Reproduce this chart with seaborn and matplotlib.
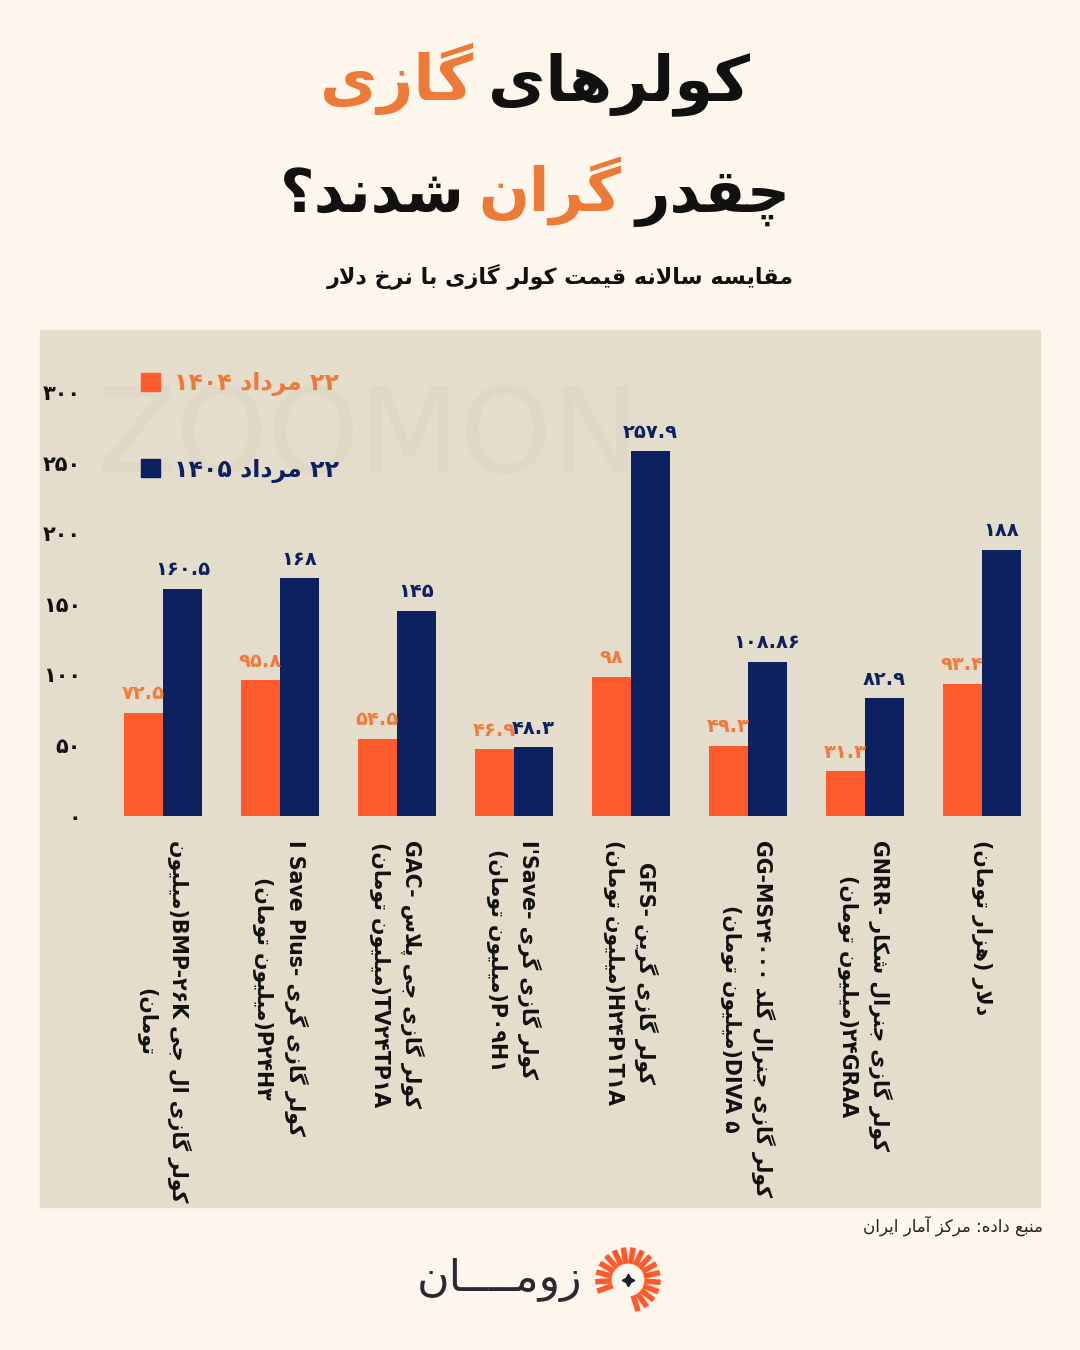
import numpy as np
import pandas as pd
import matplotlib
matplotlib.use("Agg")
import matplotlib.pyplot as plt
import seaborn as sns
from matplotlib.patches import Rectangle

# --- DATA ---
LABELS = [
    "کولر گازی ال جی BMP-۲۶K(میلیون\nتومان)",
    "کولر گازی گری -I Save Plus\nP۲۴H۳(میلیون تومان)",
    "کولر گازی جی پلاس -GAC\nTV۲۴TP۱A(میلیون تومان)",
    "کولر گازی گری -I'Save\nP۰۹H۱(میلیون تومان)",
    "کولر گازی گرین -GFS\nH۲۴P۱T۱A(میلیون تومان)",
    "کولر گازی جنرال گلد GG-MS۲۴۰۰۰\nDIVA ۵(میلیون تومان)",
    "کولر گازی جنرال شکار -GNRR\n۲۴GRAA(میلیون تومان)",
    "دلار (هزار تومان)",
]
PERIODS = ["۲۲ مرداد ۱۴۰۴", "۲۲ مرداد ۱۴۰۵"]
VALUES_1404 = [72.5, 95.8, 54.5, 46.9, 98, 49.3, 31.3, 93.4]
VALUES_1405 = [160.5, 168, 145, 48.3, 257.9, 108.86, 82.9, 188]
Y_TICKS = [0, 50, 100, 150, 200, 250, 300]

# --- COLOURS ---
BG = "#FCF6EC"
PANEL = "#E5DDCC"
ORANGE = "#FF5A2B"
ORANGE_TXT = "#EE7A3A"
NAVY = "#0C2260"

# --- persian shaping (matplotlib does no arabic shaping / bidi) ---
FORMS = {
    'ء': ('\uFE80', None, None, None),
    'آ': ('\uFE81', '\uFE82', None, None),
    'ا': ('\uFE8D', '\uFE8E', None, None),
    'ب': ('\uFE8F', '\uFE90', '\uFE91', '\uFE92'),
    'پ': ('\uFB56', '\uFB57', '\uFB58', '\uFB59'),
    'ت': ('\uFE95', '\uFE96', '\uFE97', '\uFE98'),
    'ث': ('\uFE99', '\uFE9A', '\uFE9B', '\uFE9C'),
    'ج': ('\uFE9D', '\uFE9E', '\uFE9F', '\uFEA0'),
    'چ': ('\uFB7A', '\uFB7B', '\uFB7C', '\uFB7D'),
    'ح': ('\uFEA1', '\uFEA2', '\uFEA3', '\uFEA4'),
    'خ': ('\uFEA5', '\uFEA6', '\uFEA7', '\uFEA8'),
    'د': ('\uFEA9', '\uFEAA', None, None),
    'ذ': ('\uFEAB', '\uFEAC', None, None),
    'ر': ('\uFEAD', '\uFEAE', None, None),
    'ز': ('\uFEAF', '\uFEB0', None, None),
    'ژ': ('\uFB8A', '\uFB8B', None, None),
    'س': ('\uFEB1', '\uFEB2', '\uFEB3', '\uFEB4'),
    'ش': ('\uFEB5', '\uFEB6', '\uFEB7', '\uFEB8'),
    'ص': ('\uFEB9', '\uFEBA', '\uFEBB', '\uFEBC'),
    'ط': ('\uFEC1', '\uFEC2', '\uFEC3', '\uFEC4'),
    'ع': ('\uFEC9', '\uFECA', '\uFECB', '\uFECC'),
    'غ': ('\uFECD', '\uFECE', '\uFECF', '\uFED0'),
    'ف': ('\uFED1', '\uFED2', '\uFED3', '\uFED4'),
    'ق': ('\uFED5', '\uFED6', '\uFED7', '\uFED8'),
    'ک': ('\uFB8E', '\uFB8F', '\uFB90', '\uFB91'),
    'گ': ('\uFB92', '\uFB93', '\uFB94', '\uFB95'),
    'ل': ('\uFEDD', '\uFEDE', '\uFEDF', '\uFEE0'),
    'م': ('\uFEE1', '\uFEE2', '\uFEE3', '\uFEE4'),
    'ن': ('\uFEE5', '\uFEE6', '\uFEE7', '\uFEE8'),
    'ه': ('\uFEE9', '\uFEEA', '\uFEEB', '\uFEEC'),
    'و': ('\uFEED', '\uFEEE', None, None),
    'ی': ('\uFBFC', '\uFBFD', '\uFBFE', '\uFBFF'),
    'ـ': ('ـ', 'ـ', 'ـ', 'ـ'),
}
LAM_ALEF = {'ا': ('\uFEFB', '\uFEFC'), 'آ': ('\uFEF5', '\uFEF6')}
MIRROR = {'(': ')', ')': '(', '[': ']', ']': '['}


def joins_next(c):
    return c in FORMS and FORMS[c][2] is not None


def shape(s):
    out = []
    i = 0
    while i < len(s):
        c = s[i]
        if c not in FORMS:
            out.append(c)
            i += 1
            continue
        link_prev = i > 0 and joins_next(s[i - 1]) and c != 'ء'
        if c == 'ل' and i + 1 < len(s) and s[i + 1] in LAM_ALEF:
            out.append(LAM_ALEF[s[i + 1]][1 if link_prev else 0])
            i += 2
            continue
        nxt = s[i + 1] if i + 1 < len(s) else ''
        link_next = joins_next(c) and nxt in FORMS and nxt != 'ء'
        iso, fin, ini, med = FORMS[c]
        if link_prev and link_next:
            out.append(med)
        elif link_prev:
            out.append(fin)
        elif link_next:
            out.append(ini)
        else:
            out.append(iso)
        i += 1
    return ''.join(out)


def is_rtl(c):
    o = ord(c)
    return 0x0600 <= o <= 0x06EF or 0xFB50 <= o <= 0xFEFF


def strong(c):
    if is_rtl(c):
        return 'R'
    if c.isalnum():
        return 'L'
    return None


def visual_line(s):
    s = shape(s)
    kinds = [strong(c) for c in s]
    for i, k in enumerate(kinds):
        if k is None:
            before = next((strong(s[j]) for j in range(i - 1, -1, -1) if strong(s[j])), 'R')
            after = next((strong(s[j]) for j in range(i + 1, len(s)) if strong(s[j])), 'R')
            kinds[i] = 'L' if before == after == 'L' else 'R'
    runs = []
    for c, k in zip(s, kinds):
        if runs and runs[-1][0] == k:
            runs[-1][1].append(c)
        else:
            runs.append([k, [c]])
    out = ''
    for k, chars in reversed(runs):
        if k == 'R':
            out += ''.join(MIRROR.get(c, c) for c in reversed(chars))
        else:
            out += ''.join(chars)
    return out


def fa(text):
    return '\n'.join(visual_line(line) for line in text.split('\n'))


def fa_num(v):
    return f"{v:g}".translate(str.maketrans('0123456789', '۰۱۲۳۴۵۶۷۸۹'))


# --- FIGURE ---
sns.set_theme(style="white")
plt.rcParams['font.family'] = ['DejaVu Sans']
W, H = 1080, 1350
fig = plt.figure(figsize=(10.8, 13.5), dpi=100, facecolor=BG)


def px(x, y):
    return x / W, 1 - y / H


fig.patches.append(Rectangle(px(40, 1207), 1000 / W, 877 / H,
                             transform=fig.transFigure, color=PANEL, zorder=-10))

# faint watermark
fig.text(*px(368, 440), "ZOOMON", fontsize=84, color="#E0D8C6",
         ha='center', va='center', zorder=-5)

ax = fig.add_axes([104.5 / W, 1 - 815.5 / H, 935.5 / W, 475.5 / H])
ax.set_facecolor('none')
ax.set_zorder(1)

df = pd.DataFrame({
    'label': LABELS * 2,
    'period': [PERIODS[0]] * len(LABELS) + [PERIODS[1]] * len(LABELS),
    'value': VALUES_1404 + VALUES_1405,
})
sns.barplot(data=df, x='label', y='value', hue='period', order=LABELS,
            hue_order=PERIODS, palette=[ORANGE, NAVY], width=0.667,
            saturation=1, linewidth=0, ax=ax, legend=False)

# value labels
for cont, vals, col in zip(ax.containers, [VALUES_1404, VALUES_1405],
                           ["#F07B3C", NAVY]):
    ax.bar_label(cont, labels=[fa_num(v) for v in vals], padding=7,
                 color=col, fontsize=14, fontweight='bold')

ax.set_ylim(0, 336.8)
ax.set_yticks(Y_TICKS)
ax.set_yticklabels([fa_num(v) for v in Y_TICKS], fontsize=15,
                   fontweight='bold', color='#111111')
ax.set_xticks(range(len(LABELS)))
ax.set_xticklabels([fa(l) for l in LABELS], rotation=-90, fontsize=14.8,
                   fontweight='bold', color='#111111', va='top', ha='center',
                   multialignment='center', linespacing=1.65)
ax.tick_params(axis='y', length=0, pad=17)
ax.tick_params(axis='x', length=0, pad=18)
ax.set_xlabel('')
ax.set_ylabel('')
sns.despine(ax=ax, left=True, bottom=True)

# legend
handles = [Rectangle((0, 0), 1, 1, color=ORANGE), Rectangle((0, 0), 1, 1, color=NAVY)]
leg = fig.legend(handles, [fa(p) for p in PERIODS], loc='upper left',
                 bbox_to_anchor=px(120, 350), frameon=False,
                 prop={'size': 17, 'weight': 'bold'}, handlelength=0.8,
                 handleheight=0.8, handletextpad=0.6, labelspacing=2.6)
for t, col in zip(leg.get_texts(), [ORANGE_TXT, NAVY]):
    t.set_color(col)

# --- TITLE (words placed right to left, each in its own colour) ---
renderer = fig.canvas.get_renderer()


def title_line(words, y, size, gap=14, center=535):
    arts = [fig.text(0, 1 - y / H, fa(w), color=c, fontsize=size,
                     fontweight='bold', va='baseline', ha='left')
            for w, c in words]
    widths = [a.get_window_extent(renderer).width for a in arts]
    total = sum(widths) + gap * (len(arts) - 1)
    x = center + total / 2
    for a, w in zip(arts, widths):
        x -= w
        a.set_x(x / W)
        x -= gap


title_line([("کولرهای", '#111111'), ("گازی", ORANGE_TXT)], 100, 45)
title_line([("چقدر", '#111111'), ("گران", ORANGE_TXT), ("شدند؟", '#111111')], 212, 43)
fig.text(*px(560, 276), fa("مقایسه سالانه قیمت کولر گازی با نرخ دلار"),
         fontsize=16, fontweight='bold', color='#111111', ha='center', va='center')

# --- FOOTER ---
fig.text(*px(1043, 1226), fa("منبع داده: مرکز آمار ایران"), fontsize=12,
         color='#222222', ha='right', va='center')
fig.text(*px(500, 1280), fa("زومــــان"), fontsize=32, color='#2A2A33',
         ha='center', va='center')

# logo mark
lax = fig.add_axes([592 / W, 1 - 1316 / H, 72 / W, 72 / H])
lax.set_xlim(-1.1, 1.1)
lax.set_ylim(-1.1, 1.1)
lax.set_aspect('equal')
lax.axis('off')
for a in np.deg2rad(np.arange(-72, 206, 17)):
    lax.plot([0.5 * np.cos(a), 1.0 * np.cos(a)], [0.5 * np.sin(a), 1.0 * np.sin(a)],
             color=ORANGE, lw=4, solid_capstyle='butt')
lax.plot(0, 0, marker=(4, 1, 0), markersize=9, color='#1E1E28')

fig.savefig("out.png", dpi=100, facecolor=BG)
